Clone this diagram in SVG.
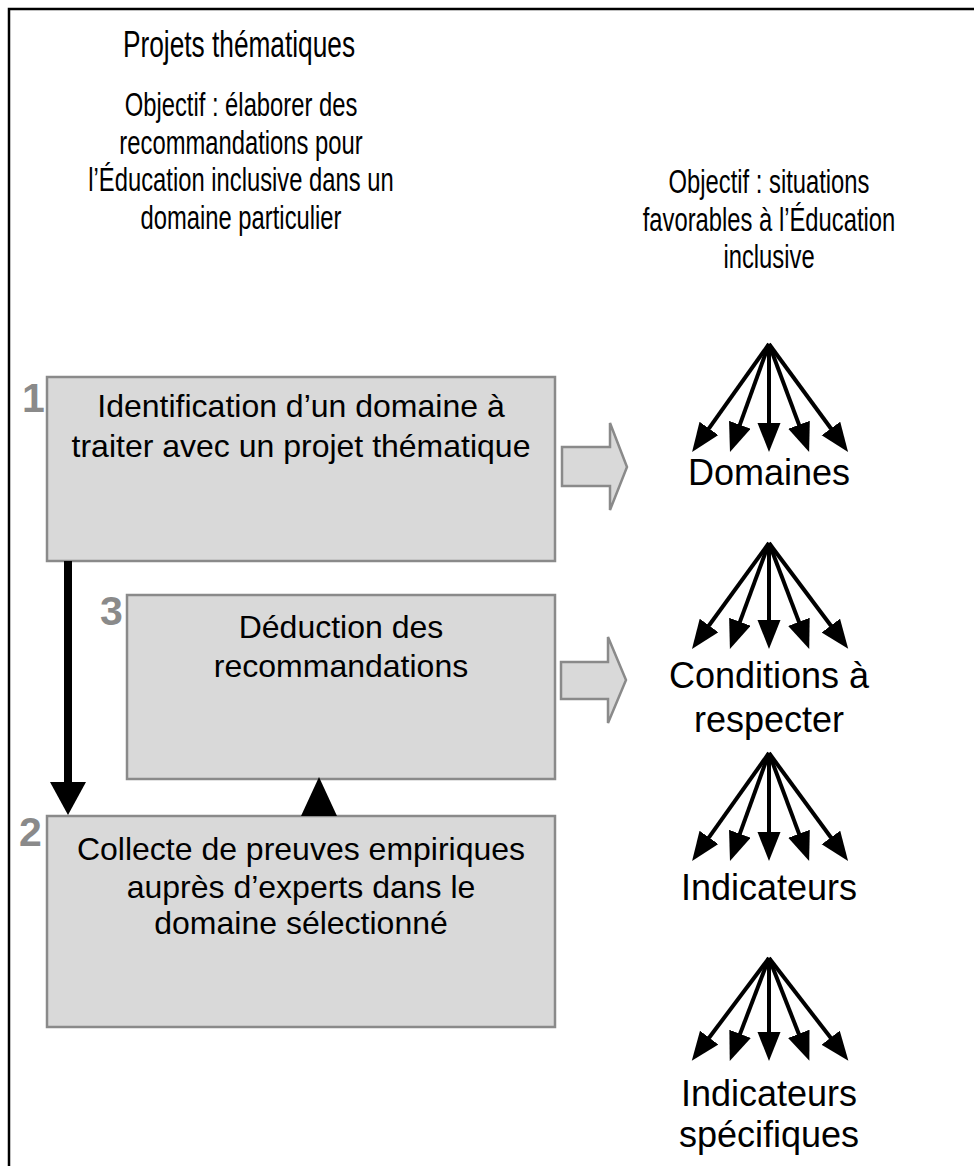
<svg xmlns="http://www.w3.org/2000/svg" width="974" height="1166" viewBox="0 0 974 1166">
<defs>
<style>
text{font-family:"Liberation Sans",Arial,sans-serif;fill:#000;}
.cond{font-size:34px;text-anchor:middle;}
.box{fill:#d9d9d9;stroke:#8a8a8a;stroke-width:2.5;}
.bt{font-size:32px;text-anchor:middle;}
.num{font-size:41px;font-weight:bold;fill:#8a8a8a;}
.lab{font-size:36px;text-anchor:middle;}
.fan line{stroke:#000;stroke-width:4;marker-end:url(#ah);}
.big{fill:#d9d9d9;stroke:#8a8a8a;stroke-width:2.5;}
</style>
<marker id="ah" markerUnits="userSpaceOnUse" markerWidth="30" markerHeight="24" refX="14" refY="11.5" orient="auto" viewBox="0 0 30 24">
<path d="M0,0 L29,11.5 L0,23 z" fill="#000"/>
</marker>
</defs>
<rect width="974" height="1166" fill="#fff"/>
<path d="M9,1166 L9,9 L974,9" fill="none" stroke="#000" stroke-width="2.5"/>

<g id="titles">
<g transform="translate(239,0) scale(0.73,1)"><text class="cond" x="0" y="57" style="font-size:36px">Projets thématiques</text></g>
<g transform="translate(241,0) scale(0.7,1)">
<text class="cond" x="0" y="116">Objectif : élaborer des</text>
<text class="cond" x="0" y="154">recommandations pour</text>
<text class="cond" x="0" y="191">l’Éducation inclusive dans un</text>
<text class="cond" x="0" y="229">domaine particulier</text>
</g>
<g transform="translate(769,0) scale(0.7,1)">
<text class="cond" x="0" y="193">Objectif : situations</text>
<text class="cond" x="0" y="231">favorables à l’Éducation</text>
<text class="cond" x="0" y="268">inclusive</text>
</g>
</g>

<g id="node1">
<rect class="box" x="47" y="377" width="508" height="184"/>
<text class="num" x="22" y="412">1</text>
<text class="bt" x="301" y="417">Identification d’un domaine à</text>
<text class="bt" x="301" y="457">traiter avec un projet thématique</text>
</g>

<g id="node3">
<rect class="box" x="127" y="595" width="428" height="184"/>
<text class="num" x="100" y="625">3</text>
<text class="bt" x="341" y="638">Déduction des</text>
<text class="bt" x="341" y="677">recommandations</text>
</g>

<g id="node2">
<rect class="box" x="47" y="816" width="508" height="211"/>
<text class="num" x="19" y="846">2</text>
<text class="bt" x="301" y="860">Collecte de preuves empiriques</text>
<text class="bt" x="301" y="898">auprès d’experts dans le</text>
<text class="bt" x="301" y="934">domaine sélectionné</text>
</g>

<g id="connectors">
<rect x="64" y="561" width="8" height="223" fill="#000"/>
<polygon points="50,782 86,782 68,815" fill="#000"/>
<polygon points="301,816 337,816 319,777" fill="#000"/>
<path class="big" d="M562,447 L610,447 L610,423 L627,467 L610,510 L610,486 L562,486 Z"/>
<path class="big" d="M561,662 L608,662 L608,637 L626,680 L608,723 L608,699 L561,699 Z"/>
<g class="fan">
<line x1="769" y1="344" x2="700.8" y2="439.8"/>
<line x1="769" y1="344" x2="735.1" y2="437.9"/>
<line x1="769" y1="344" x2="769" y2="437"/>
<line x1="769" y1="344" x2="803.9" y2="437.9"/>
<line x1="769" y1="344" x2="839.2" y2="439.8"/>
</g>
<g class="fan">
<line x1="769" y1="543" x2="700.8" y2="636.8"/>
<line x1="769" y1="543" x2="735.1" y2="634.9"/>
<line x1="769" y1="543" x2="769" y2="634"/>
<line x1="769" y1="543" x2="803.9" y2="634.9"/>
<line x1="769" y1="543" x2="839.2" y2="636.8"/>
</g>
<g class="fan">
<line x1="769" y1="753" x2="700.8" y2="848.8"/>
<line x1="769" y1="753" x2="735.1" y2="846.9"/>
<line x1="769" y1="753" x2="769" y2="846"/>
<line x1="769" y1="753" x2="803.9" y2="846.9"/>
<line x1="769" y1="753" x2="839.2" y2="848.8"/>
</g>
<g class="fan">
<line x1="769" y1="958" x2="700.8" y2="1048.8"/>
<line x1="769" y1="958" x2="735.1" y2="1046.9"/>
<line x1="769" y1="958" x2="769" y2="1046"/>
<line x1="769" y1="958" x2="803.9" y2="1046.9"/>
<line x1="769" y1="958" x2="839.2" y2="1048.8"/>
</g>
</g>

<g id="labels">
<text class="lab" x="769" y="485">Domaines</text>
<text class="lab" x="769" y="688">Conditions à</text>
<text class="lab" x="769" y="732">respecter</text>
<text class="lab" x="769" y="900">Indicateurs</text>
<text class="lab" x="769" y="1106">Indicateurs</text>
<text class="lab" x="769" y="1147">spécifiques</text>
</g>
</svg>
